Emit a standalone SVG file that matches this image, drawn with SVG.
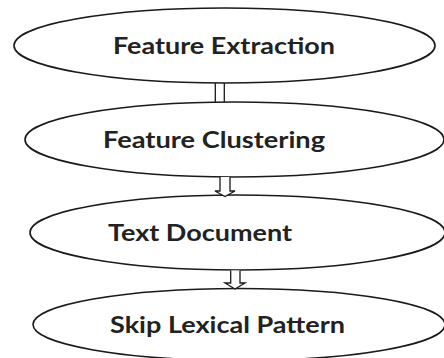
<svg xmlns="http://www.w3.org/2000/svg" width="444" height="358" viewBox="0 0 444 358">
<style>
.n{fill:none;stroke:#1a1a1a;stroke-width:1.6}
.t{font-family:Lato,"Open Sans","Liberation Sans",sans-serif;font-weight:bold;font-size:23px;fill:#222}
.c{fill:#fff;stroke:#1a1a1a;stroke-width:1.3;stroke-linejoin:miter}
</style>
<rect width="444" height="358" fill="#fff"/>
<g id="node-feature-extraction">
<ellipse class="n" cx="224.5" cy="45.5" rx="210.5" ry="37.5"/>
<text class="t" x="113" y="54" textLength="222" lengthAdjust="spacingAndGlyphs">Feature Extraction</text>
</g>
<g id="node-feature-clustering">
<ellipse class="n" cx="234.5" cy="139.5" rx="209.5" ry="37.5"/>
<text class="t" x="103" y="148" textLength="222" lengthAdjust="spacingAndGlyphs">Feature Clustering</text>
</g>
<g id="node-text-document">
<ellipse class="n" cx="237.5" cy="232.5" rx="207.5" ry="37.5"/>
<text class="t" x="108" y="241" textLength="184" lengthAdjust="spacingAndGlyphs">Text Document</text>
</g>
<g id="node-skip-lexical-pattern">
<ellipse class="n" cx="239" cy="324.5" rx="206" ry="36"/>
<text class="t" x="110" y="333" textLength="235" lengthAdjust="spacingAndGlyphs">Skip Lexical Pattern</text>
</g>
<g id="connectors">
<path class="c" d="M215.3,83 V102 M224.3,83 V102" fill="none"/>
<path class="c" d="M220,177 V191 H215 L225,196.5 L235,191 H230 V177"/>
<path class="c" d="M230.7,270.5 V283 H225 L235,289 L245,283 H240 V270.5"/>
</g>
</svg>
